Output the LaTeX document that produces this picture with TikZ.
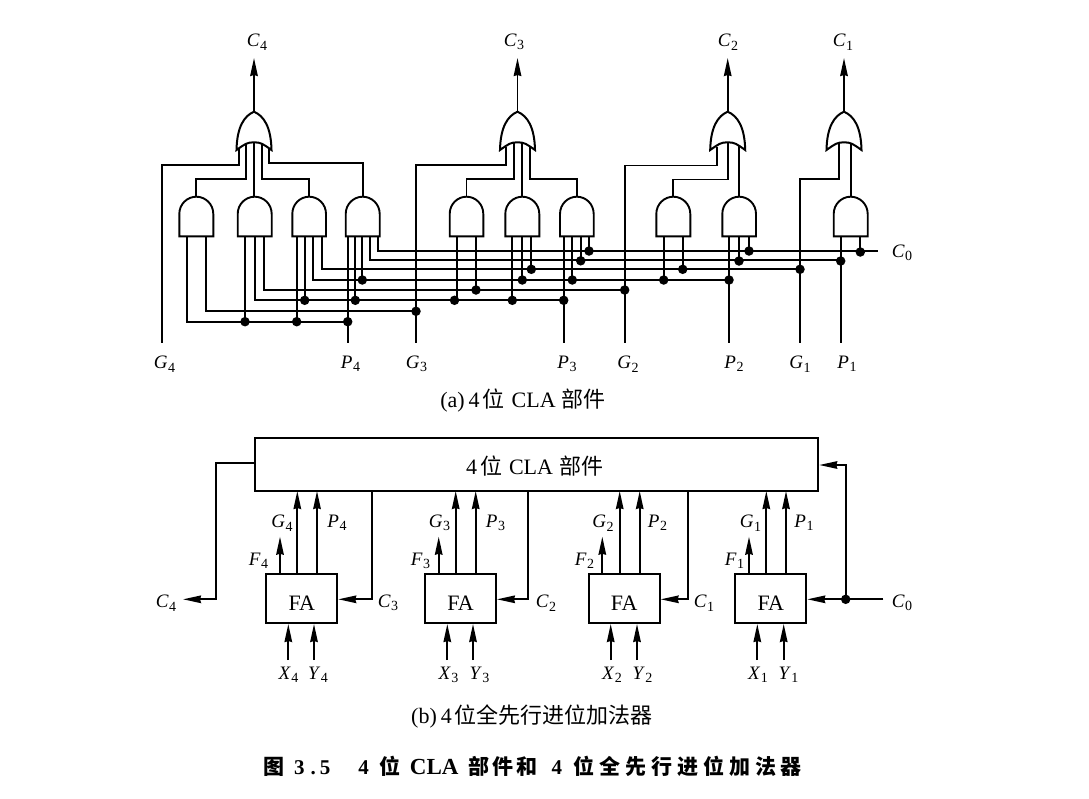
\documentclass[tikz,border=0pt]{standalone}
\usepackage{fontspec}
\setmainfont{Liberation Serif}
\newfontfamily\cjk{Noto Sans CJK SC}
\usetikzlibrary{arrows.meta}
\newcommand{\lab}[2]{{\fontsize{19}{20}\selectfont\textit{#1}\raisebox{-3.5pt}{\fontsize{14}{14}\selectfont\hspace{0.5pt}#2}}}
\newcommand{\cel}[2]{\makebox[#1pt][l]{\cjk #2}}
\newcommand{\andgate}[3]{% name, left, right
  \path[gatefill] (#2,236.3) -- (#2,214) .. controls (#2,204) and ({(#2+#3)/2-9},196.7) .. ({(#2+#3)/2},196.7)
    .. controls ({(#2+#3)/2+9},196.7) and (#3,204) .. (#3,214) -- (#3,236.3) -- cycle;
  \coordinate (#1) at ({(#2+#3)/2},196.7);}
\newcommand{\orgate}[2]{% name, centre
  \path[orfill] (#2-17.5,150) .. controls (#2-17,127) and (#2-10,116) .. (#2,111.7)
    .. controls (#2+10,116) and (#2+17,127) .. (#2+17.5,150)
    .. controls (#2+9,144) and (#2+7,142.3) .. (#2,142.3)
    .. controls (#2-7,142.3) and (#2-9,144) .. cycle;
  \coordinate (#1) at (#2,111.7);}
\tikzset{
  x=1pt,y=-1pt,
  wire/.style={line width=1.9pt,line join=miter},
  gatefill/.style={draw,fill=white,line width=1.9pt,line join=miter},
  orfill/.style={draw,fill=white,line width=2pt,line join=miter},
  arr/.style={wire,-{Stealth[length=18pt,width=7.5pt,inset=1pt]}},
  fabox/.style={draw,line width=1.9pt,minimum width=71pt,minimum height=48.7pt,inner sep=0pt,text height=24pt,text depth=0pt,font=\fontsize{22}{24}\selectfont},
  txt/.style={inner sep=0pt},
  jdot/.style={circle,fill=black,minimum size=9.5pt,inner sep=0pt},
}
\newcommand{\jd}[2]{\node[jdot] at (#1,#2) {};}
\begin{document}
\begin{tikzpicture}
\useasboundingbox (0,0) rectangle (1089,798);
\fill[white] (0,0) rectangle (1089,798);
% ---- (a) OR inputs
\begin{scope}[wire]
\draw (239.3,147) -- (239.3,165.3) -- (161.7,165.3) -- (161.7,343);
\draw (245.7,140) -- (245.7,179.3) -- (196.3,179.3) -- (196.3,197);
\draw (254,140) -- (254,197);
\draw (262,140) -- (262,179.3) -- (309,179.3) -- (309,197);
\draw (268.7,147) -- (268.7,163.3) -- (362.7,163.3) -- (362.7,197);
\draw (505.7,147) -- (505.7,165.3) -- (416,165.3) -- (416,343);
\draw (513.7,140) -- (513.7,179.3) -- (466.5,179.3) -- (466.5,197);
\draw (521.7,140) -- (521.7,197);
\draw (530,140) -- (530,179.3) -- (576.7,179.3) -- (576.7,197);
\draw (716.7,147) -- (716.7,165.5) -- (624.7,165.5) -- (624.7,343);
\draw (727.7,140) -- (727.7,179.5) -- (673.3,179.5) -- (673.3,197);
\draw (739,140) -- (739,197);
\draw (839,140) -- (839,179.3) -- (800,179.3) -- (800,343);
\draw (850.7,140) -- (850.7,197);
% bus lines with their first input
\draw (186.7,236) -- (186.7,321.7) -- (347.7,321.7);
\draw (206,236) -- (206,311.3) -- (416,311.3);
\draw (254.7,236) -- (254.7,300.3) -- (563.7,300.3);
\draw (264.3,236) -- (264.3,290) -- (624.7,290);
\draw (313.3,236) -- (313.3,280) -- (729,280);
\draw (321.7,236) -- (321.7,269.3) -- (800,269.3);
\draw (370,236) -- (370,260.3) -- (840.7,260.3);
\draw (377.7,236) -- (377.7,251) -- (878.3,251);
% drops
\draw (245,236) -- (245,321.7);
\draw (296.7,236) -- (296.7,321.7);
\draw (304.7,236) -- (304.7,300.3);
\draw (347.7,236) -- (347.7,343);
\draw (355.3,236) -- (355.3,300.3);
\draw (362.3,236) -- (362.3,280);
\draw (456.7,236) -- (456.7,300.3);
\draw (476,236) -- (476,290);
\draw (512.3,236) -- (512.3,300.3);
\draw (522,236) -- (522,280);
\draw (531.3,236) -- (531.3,269.3);
\draw (563.7,236) -- (563.7,343);
\draw (572.3,236) -- (572.3,280);
\draw (580.7,236) -- (580.7,260.3);
\draw (589,236) -- (589,251);
\draw (663.7,236) -- (663.7,280);
\draw (682.7,236) -- (682.7,269.3);
\draw (729,236) -- (729,343);
\draw (739,236) -- (739,260.3);
\draw (749,236) -- (749,251);
\draw (840.7,236) -- (840.7,343);
\draw (860.3,236) -- (860.3,251);
\end{scope}
% dots
\jd{245}{321.7}\jd{296.7}{321.7}\jd{347.7}{321.7}
\jd{416}{311.3}
\jd{304.7}{300.3}\jd{355.3}{300.3}\jd{454.5}{300.3}\jd{512.3}{300.3}\jd{563.7}{300.3}
\jd{476}{290}\jd{624.7}{290}
\jd{362.3}{280}\jd{522.3}{280}\jd{572.3}{280}\jd{663.7}{280}\jd{729}{280}
\jd{531.3}{269.3}\jd{682.7}{269.3}\jd{800}{269.3}
\jd{580.7}{260.8}\jd{739}{261}\jd{840.7}{261}
\jd{589}{251}\jd{749}{251}\jd{860.3}{252}
% gates
\andgate{a1}{179.3}{213.3}\andgate{a2}{237.7}{271.7}\andgate{a3}{292.3}{326}\andgate{a4}{345.7}{379.7}
\andgate{a5}{449.7}{483.3}\andgate{a6}{505.3}{539.3}\andgate{a7}{560}{593.7}
\andgate{a8}{656.3}{690.3}\andgate{a9}{722.3}{756}\andgate{a10}{833.7}{867.7}
\orgate{o1}{254}\orgate{o2}{517.5}\orgate{o3}{727.7}\orgate{o4}{844}
% outputs
\coordinate (c4t) at (254,58);\coordinate (c3t) at (517.5,58);\coordinate (c2t) at (727.7,58);\coordinate (c1t) at (844,58);
\draw[arr] (o1) -- (c4t);\draw[arr] (o2) -- (c3t);\draw[arr] (o3) -- (c2t);\draw[arr] (o4) -- (c1t);
\node[txt] at (257,42) {\lab{C}{4}};
\node[txt] at (514,42) {\lab{C}{3}};
\node[txt] at (728,42) {\lab{C}{2}};
\node[txt] at (843,42) {\lab{C}{1}};
\node[txt] at (902,253) {\lab{C}{0}};
\node[txt] at (164.5,364) {\lab{G}{4}};
\node[txt] at (350.5,364) {\lab{P}{4}};
\node[txt] at (416.5,364) {\lab{G}{3}};
\node[txt] at (567,364) {\lab{P}{3}};
\node[txt] at (628,364) {\lab{G}{2}};
\node[txt] at (734,364) {\lab{P}{2}};
\node[txt] at (800,364) {\lab{G}{1}};
\node[txt] at (847,364) {\lab{P}{1}};
\node[txt,font=\fontsize{22}{24}\selectfont] at (523,401) {(a)\hspace{4pt}4\hspace{3pt}{\cjk 位}\hspace{7pt}CLA\hspace{6pt}{\cjk 部件}};
% ---- (b)
\node[draw,line width=1.9pt,minimum width=563pt,minimum height=52.7pt,inner sep=0pt,text height=20.8pt,text depth=0pt,font=\fontsize{22}{24}\selectfont] (cla) at (536.8,464.4) {\hspace{-4.6pt}4\hspace{3pt}{\cjk 位}\hspace{7pt}CLA\hspace{6pt}{\cjk 部件}};
\node[fabox] (fa4) at (301.8,598.7) {FA};
\node[fabox] (fa3) at (460.5,598.7) {FA};
\node[fabox] (fa2) at (624.2,598.7) {FA};
\node[fabox] (fa1) at (770.8,598.7) {FA};
\coordinate (c4o) at (183,599.3);
\draw[arr] (cla.west |- 0,463.3) -- (216,463.3) -- (216,599.3) -- (c4o);
\foreach \xf/\xg/\xp/\xx/\xy in {280/297.3/317/288.3/314,438.7/455.7/475.7/447.3/473,602.3/619.7/639.7/610.7/637,749/766.3/786/757.3/783.7}{
  \draw[arr] (\xf,574.3) -- (\xf,536.7);
  \draw[arr] (\xg,574.3) -- (\xg,491);
  \draw[arr] (\xp,574.3) -- (\xp,491);
  \draw[arr] (\xx,660) -- (\xx,624);
  \draw[arr] (\xy,660) -- (\xy,624);
}
\draw[arr] (371.7,490.7) -- (371.7,599.3) -- (fa4.east |- 0,599.3);
\draw[arr] (528.3,490.7) -- (528.3,599.3) -- (fa3.east |- 0,599.3);
\draw[arr] (687.7,490.7) -- (687.7,599.3) -- (fa2.east |- 0,599.3);
\coordinate (c0i) at (883.3,599.3);
\coordinate (c0j) at (845.7,599.3);
\draw[arr] (c0i) -- (fa1.east |- 0,599.3);
\draw[arr] (c0j) -- (845.7,465) -- (cla.east |- 0,465);
\node[jdot] at (c0j) {};
\foreach \x/\a/\b in {166/C/4,388/C/3,546/C/2,704/C/1,902/C/0}{\node[txt] at (\x,603) {\lab{\a}{\b}};}
\foreach \x/\a/\b in {282/G/4,337/P/4,439.5/G/3,495.5/P/3,603/G/2,657.5/P/2,750.5/G/1,804/P/1}{\node[txt] at (\x,523) {\lab{\a}{\b}};}
\foreach \x/\a/\b in {258.5/F/4,420.5/F/3,584.5/F/2,734.5/F/1}{\node[txt] at (\x,561) {\lab{\a}{\b}};}
\foreach \x/\a/\b in {288.5/X/4,318/Y/4,448.5/X/3,479.5/Y/3,612/X/2,642.5/Y/2,758/X/1,788.5/Y/1}{\node[txt] at (\x,675) {\lab{\a}{\b}};}
\node[txt,font=\fontsize{22}{24}\selectfont] at (532,716) {(b)\hspace{4pt}4\hspace{3pt}{\cjk 位全先行进位加法器}};
\node[txt,anchor=west,font=\fontsize{21}{24}\selectfont\bfseries] at (263,766) {\cel{31}{图}3\hspace{6pt}.\hspace{4pt}5\hspace{28pt}4\hspace{11pt}\cel{30}{位}{\fontsize{23}{24}\selectfont CLA}\hspace{10pt}\cel{24}{部}\cel{24}{件}\cel{35}{和}4\hspace{11pt}\cel{26}{位}\cel{26}{全}\cel{26}{先}\cel{26}{行}\cel{26}{进}\cel{26}{位}\cel{26}{加}\cel{26}{法}{\cjk 器}};
\end{tikzpicture}
\end{document}
